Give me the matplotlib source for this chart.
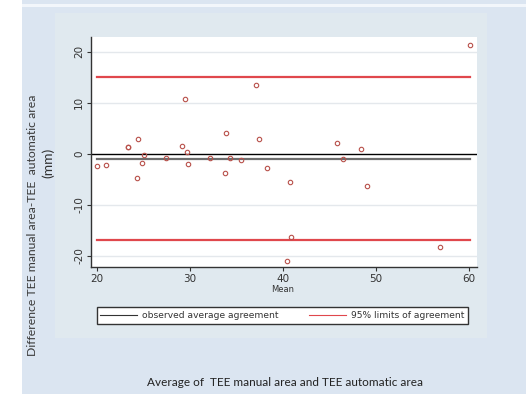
"""Bland-Altman plot: TEE manual vs automatic area."""
import matplotlib

matplotlib.use("Agg")
import matplotlib.pyplot as plt
from matplotlib.patches import Rectangle

# average of the two methods (x) and their difference (y)
mean_vals = [20.0, 21.0, 23.3, 23.3, 24.4, 24.3, 24.8, 25.1, 27.4, 29.1,
             29.5, 29.7, 29.8, 32.2, 33.8, 33.9, 34.3, 35.5, 37.1, 37.4,
             38.3, 40.4, 40.7, 40.9, 45.8, 46.4, 48.4, 49.0, 56.9, 60.1]
diff_vals = [-2.3, -2.2, 1.3, 1.4, 2.9, -4.8, -1.9, -0.3, -0.9, 1.6,
             10.8, 0.3, -2.0, -0.9, -3.8, 4.0, -0.9, -1.2, 13.5, 2.9,
             -2.7, -21.1, -5.5, -16.3, 2.2, -1.0, 1.0, -6.3, -18.2, 21.4]

mean_diff = -1.0
upper_loa = 15.0
lower_loa = -17.0
yticks = [-20, -10, 0, 10, 20]
xticks = [20, 30, 40, 50, 60]

slide_bg = "#dbe5f1"
region_bg = "#e0e9ef"
red = "#e0474c"

fig = plt.figure(figsize=(5.26, 3.94), dpi=100)
fig.patch.set_facecolor(slide_bg)

# white strip on the left, thin white line at top, stata graph region
fig.add_artist(Rectangle((0, 0), 22 / 526, 1, transform=fig.transFigure,
                         facecolor="white", edgecolor="none", zorder=0))
fig.add_artist(Rectangle((22 / 526, 1 - 7 / 394), 1, 3 / 394,
                         transform=fig.transFigure, facecolor="#f2f6fb",
                         edgecolor="none", zorder=0))
fig.add_artist(Rectangle((55 / 526, 1 - 338 / 394), 432 / 526, 325 / 394,
                         transform=fig.transFigure, facecolor=region_bg,
                         edgecolor="none", zorder=0))

ax = fig.add_axes([91 / 526, 1 - 267 / 394, 386 / 526, 230 / 394])
ax.set_facecolor("white")
ax.set_xlim(19.35, 60.86)
ax.set_ylim(-22.2, 22.9)

for g in [-20, -10, 10, 20]:
    ax.axhline(g, color="#e4e8ec", lw=1.0, zorder=1)

ax.axhline(0, color="black", lw=1.0, zorder=2)
xmin, xmax = min(mean_vals), max(mean_vals)
ax.plot([xmin, xmax], [mean_diff, mean_diff], color="#6e6e6e", lw=1.6,
        zorder=2)
ax.plot([xmin, xmax], [upper_loa, upper_loa], color=red, lw=1.6, zorder=2)
ax.plot([xmin, xmax], [lower_loa, lower_loa], color=red, lw=1.6, zorder=2)

ax.plot(mean_vals, diff_vals, "o", ms=3.2, mfc="none", mec="#b8504a",
        mew=0.8, zorder=3)

for side in ["top", "right"]:
    ax.spines[side].set_visible(False)
for side in ["left", "bottom"]:
    ax.spines[side].set_color("#333333")
    ax.spines[side].set_linewidth(1.0)

ax.set_xticks(xticks)
ax.set_yticks(yticks)
ax.tick_params(length=3, width=0.8, colors="#333333", labelsize=7.5, pad=2)
ax.set_yticklabels([str(t) for t in yticks], rotation=90, va="center")

fig.text(283 / 526, 1 - 289 / 394, "Mean", fontsize=6, ha="center",
         va="center", color="#333333")

# legend
h1, = ax.plot([], [], color="#333333", lw=0.8)
h2, = ax.plot([], [], color=red, lw=0.8)
leg = fig.legend([h1, h2], ["observed average agreement",
                            "95% limits of agreement"],
                 loc="center", ncol=2, mode="expand",
                 bbox_to_anchor=(92 / 526, 1 - 328 / 394, 381 / 526, 25 / 394),
                 fontsize=6.6, fancybox=False, framealpha=1,
                 edgecolor="#333333", handlelength=4.0, handletextpad=0.6,
                 borderpad=0.4, columnspacing=0.8)
leg.get_frame().set_linewidth(1.0)
for t in leg.get_texts():
    t.set_color("#333333")

fig.text(33 / 526, 1 - 225 / 394,
         "Difference TEE manual area-TEE  automatic area",
         rotation=90, ha="center", va="center", fontsize=8.8,
         family="Lato", color="#3a3a3a")
fig.text(48 / 526, 1 - 163 / 394, "(mm)", rotation=90, ha="center",
         va="center", fontsize=10, family="Lato", color="#333333")
fig.text(285 / 526, 1 - 382 / 394,
         "Average of  TEE manual area and TEE automatic area",
         ha="center", va="center", fontsize=8.5, family="Lato",
         color="#222222")

fig.savefig("out.png", dpi=100, facecolor=fig.get_facecolor())
